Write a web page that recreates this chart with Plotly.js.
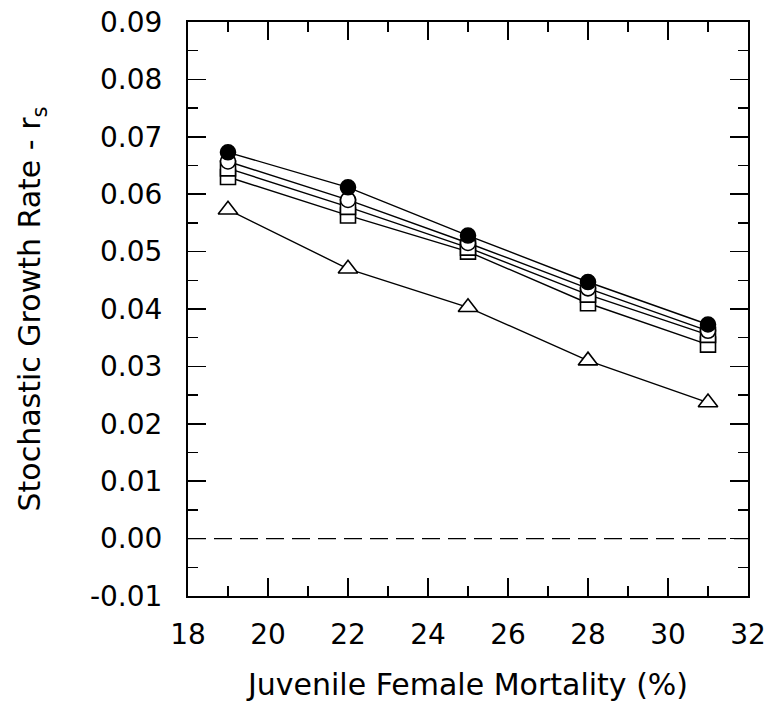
<!DOCTYPE html>
<html>
<head>
<meta charset="utf-8">
<script src="https://cdn.plot.ly/plotly-3.0.1.min.js"></script>
<style>html,body{margin:0;padding:0;background:#fff;}#chart{width:771px;height:727px;}</style>
</head>
<body>
<div id="chart"></div>
<script>
const mortality = [19, 22, 25, 28, 31];
const triangleSeries = [0.0573, 0.0470, 0.0403, 0.0310, 0.0237];
const squareLowSeries = [0.0630, 0.0563, 0.0500, 0.0410, 0.0338];
const squareHighSeries = [0.0645, 0.0578, 0.0507, 0.0425, 0.0355];
const circleSeries = [0.0657, 0.0590, 0.0515, 0.0436, 0.0362];
const filledSeries = [0.0673, 0.0612, 0.0528, 0.0447, 0.0373];
const xTicks = [18, 20, 22, 24, 26, 28, 30, 32];
const yTicks = [-0.01, 0, 0.01, 0.02, 0.03, 0.04, 0.05, 0.06, 0.07, 0.08, 0.09];

function tr(y, symbol, filled) {
  return {
    x: mortality, y: y, type: 'scatter', mode: 'lines+markers',
    line: {color: '#000', width: 1.4},
    marker: {symbol: symbol, size: 15, color: filled ? '#000' : '#fff', line: {color: '#000', width: 1.6}},
    showlegend: false, hoverinfo: 'x+y'
  };
}
const data = [
  tr(triangleSeries, 'triangle-up', false),
  tr(squareLowSeries, 'square', false),
  tr(squareHighSeries, 'square', false),
  tr(circleSeries, 'circle', false),
  tr(filledSeries, 'circle', true)
];
data[0].marker.size = 17;

const font = {family: 'DejaVu Sans, Liberation Sans, Arial, sans-serif', color: '#000'};
const layout = {
  width: 771, height: 727,
  margin: {l: 188, r: 23, t: 22, b: 131},
  paper_bgcolor: '#fff', plot_bgcolor: '#fff',
  font: Object.assign({size: 28}, font),
  xaxis: {
    range: [18, 32], tickvals: xTicks, ticktext: xTicks.map(String),
    ticks: 'inside', ticklen: 18, tickwidth: 1.5, tickcolor: '#000',
    minor: {dtick: 1, ticks: 'inside', ticklen: 10, tickwidth: 1.5, tickcolor: '#000'},
    showline: true, linecolor: '#000', linewidth: 2, mirror: 'ticks',
    showgrid: false, zeroline: false,
    tickfont: Object.assign({size: 28}, font), ticklabelstandoff: 12,
    title: {text: 'Juvenile Female Mortality (%)', font: Object.assign({size: 30}, font), standoff: 24}
  },
  yaxis: {
    range: [-0.01, 0.09], tickvals: yTicks, ticktext: yTicks.map(v => v.toFixed(2)),
    ticks: 'inside', ticklen: 18, tickwidth: 1.5, tickcolor: '#000',
    minor: {dtick: 0.005, ticks: 'inside', ticklen: 10, tickwidth: 1.5, tickcolor: '#000'},
    showline: true, linecolor: '#000', linewidth: 2, mirror: 'ticks',
    showgrid: false, zeroline: false,
    tickfont: Object.assign({size: 28}, font), ticklabelstandoff: 18,
    title: {text: 'Stochastic Growth Rate - r<sub>s</sub>', font: Object.assign({size: 30}, font), standoff: 40}
  },
  shapes: [{type: 'line', xref: 'paper', x0: 0, x1: 1, yref: 'y', y0: 0, y1: 0,
            line: {color: '#000', width: 1.4, dash: '18px,8px'}}]
};
Plotly.newPlot('chart', data, layout, {displayModeBar: false, staticPlot: true});
</script>
</body>
</html>
